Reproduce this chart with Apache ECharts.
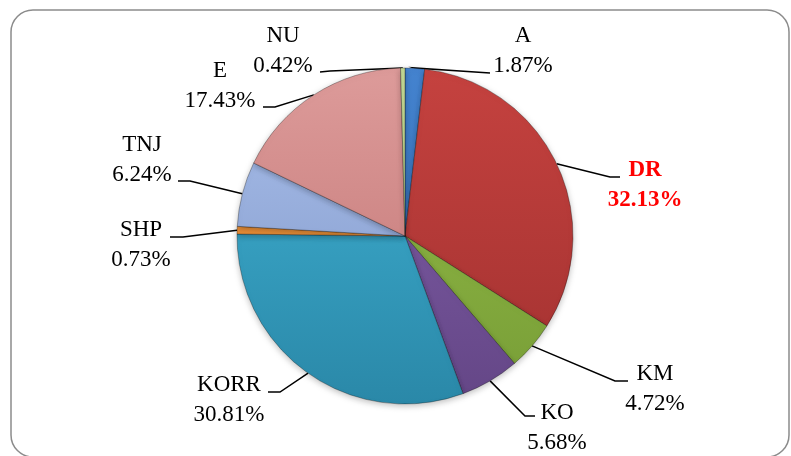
<!DOCTYPE html>
<html>
<head>
<meta charset="utf-8">
<script src="https://cdn.jsdelivr.net/npm/echarts@6/dist/echarts.min.js"></script>
<style>
  html, body { margin: 0; padding: 0; background: #fff; }
  #main { width: 791px; height: 456px; }
</style>
</head>
<body>
<div id="main"></div>
<script>
// slice names and shares (%), clockwise from 12 o'clock
var names = ['A', 'DR', 'KM', 'KO', 'KORR', 'SHP', 'TNJ', 'E', 'NU'];
var shares = [1.87, 32.13, 4.72, 5.68, 30.81, 0.73, 6.24, 17.43, 0.42];

// top / bottom shade of each slice
var topColors = ['#4483cf', '#c5423f', '#97bf4a', '#8462ad', '#41b4d6', '#f7a04a', '#aac0ec', '#dd9b9a', '#c2d894'];
var botColors = ['#2f66ad', '#a23130', '#779d36', '#644686', '#2a88a8', '#d77a23', '#7e95c6', '#c07372', '#9cb36c'];

// label centre + leader elbow/end (label layout only)
var labelPos = [
  [523, 51, 414, 68, 490, 73],
  [645, 185, 610, 177, 620, 177],
  [655, 389, 615, 381, 628, 381],
  [557, 428, 525, 416, 535, 416],
  [229, 400, 280, 392, 268, 392],
  [141, 245, 183, 237, 170, 237],
  [142, 160, 190, 181, 178, 181],
  [220, 86, 275, 107, 263, 107],
  [283, 51, 330, 71, 320, 72]
];

var myChart = echarts.init(document.getElementById('main'));

var seriesData = [];
for (var i = 0; i < names.length; i++) {
  var isDR = names[i] == 'DR';
  seriesData.push({
    name: names[i],
    value: shares[i],
    itemStyle: {
      color: {
        type: 'linear', x: 0, y: 68, x2: 0, y2: 404, global: true,
        colorStops: [{ offset: 0, color: topColors[i] }, { offset: 1, color: botColors[i] }]
      }
    },
    label: isDR ? { color: '#ff0000', fontWeight: 'bold' } : {}
  });
}

var option = {
  backgroundColor: '#ffffff',
  animation: false,
  graphic: [{
    type: 'rect',
    shape: { x: 11, y: 10, width: 778, height: 447, r: 22 },
    style: { fill: 'none', stroke: '#8c8c8c', lineWidth: 1.5 },
    silent: true
  }],
  series: [{
    type: 'pie',
    center: [405, 236],
    radius: [0, 168],
    startAngle: 90,
    clockwise: true,
    data: seriesData,
    itemStyle: {
      borderColor: 'rgba(0,0,0,0.3)',
      borderWidth: 1,
      shadowBlur: 6,
      shadowColor: 'rgba(0,0,0,0.25)',
      shadowOffsetY: 2
    },
    label: {
      show: true,
      position: 'outside',
      formatter: function (p) {
        return p.name + '\n' + p.value.toFixed(2) + '%';
      },
      fontFamily: '"Liberation Serif", serif',
      fontSize: 23,
      lineHeight: 30,
      color: '#000000',
      align: 'center'
    },
    labelLine: {
      show: true,
      lineStyle: { color: '#000000', width: 1.5 }
    },
    labelLayout: function (params) {
      var lp = labelPos[params.dataIndex];
      var pts = params.labelLinePoints;
      return {
        x: lp[0],
        y: lp[1],
        align: 'center',
        verticalAlign: 'middle',
        labelLinePoints: [pts[0], [lp[2], lp[3]], [lp[4], lp[5]]]
      };
    }
  }]
};

myChart.setOption(option);
</script>
</body>
</html>
